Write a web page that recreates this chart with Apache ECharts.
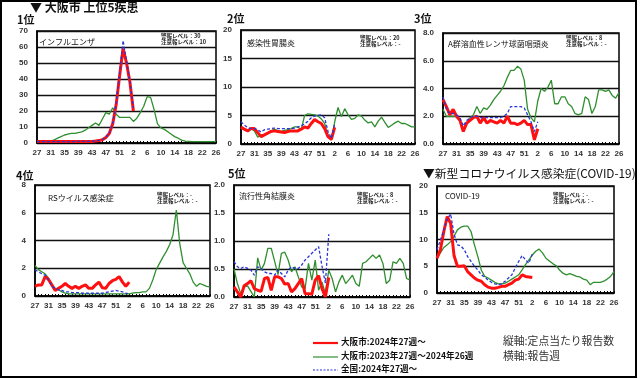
<!DOCTYPE html>
<html><head><meta charset="utf-8">
<script src="https://cdn.jsdelivr.net/npm/echarts/dist/echarts.min.js"></script>
<style>html,body{margin:0;padding:0;background:#fff}#c{width:640px;height:379px}</style>
</head><body><div id="c"></div>
<script>
// report weeks: 2024 wk27 .. wk53, 2025 wk1 .. wk26
const weeks = ['27','28','29','30','31','32','33','34','35','36','37','38','39','40','41','42','43','44','45','46','47','48','49','50','51','52','53',
  '1','2','3','4','5','6','7','8','9','10','11','12','13','14','15','16','17','18','19','20','21','22','23','24','25','26'];

// 1位 インフルエンザ
const fluRed   = [1,1,1,1,1,1,1,1,1,1,1,1,1,1,1,1,1,1.2,1.5,2,3.5,6,12,24,42,59,50,38,20];
const fluBlue  = [0.8,0.8,0.8,0.8,0.8,0.8,0.8,0.8,0.8,0.8,0.9,0.9,1,1,1,1,1.1,1.3,1.6,2.2,3.6,6,12,25,44,64,52,38,22];
const fluGreen = [1,1,1,1,1.2, 2,3,4,5,5.5, 6,6,6.5,7,8, 9.5,11,12.5,11,15, 19,18,22,18,16, 16,16,16,13.5,15.5,
  19,23,29,28.5,21, 12,9.5,8.5,7,5.5, 4,3,1.8,1.2,1, 0.8,0.8,0.8,0.8,0.8, 0.8,0.8,0.8];

// 2位 感染性胃腸炎
const gasRed   = [3.0,2.6,2.3,2.7,2.7,2.0,1.3,1.6,1.9,2.2,2.3,2.2,2.1,2.0,2.2,2.3,2.3,2.3,2.6,3.0,2.8,3.6,4.3,3.9,3.6,2.7,1.3,0.8,2.9];
const gasBlue  = [3.9,3.3,2.9,2.7,2.7,2.5,2.1,2.5,2.6,2.7,2.8,2.7,2.7,2.7,2.7,2.7,2.8,3.0,3.2,3.5,4.0,4.6,4.9,5.0,5.1,4.6,2.2,1.0,3.6];
const gasGreen = [2.7,2.5,2.2,2.7,2.3, 1.2,1.6,1.7,1.9,2.3, 2.6,2.3,2.2,2.4,2.5, 2.7,3.0,3.0,2.5,5.0, 5.3,5.2,5.1,4.9,4.4,
  3.6,1.4,0.7,3.9,6.4, 4.8,6.2,5.1,4.3,4.5, 5.1,4.9,4.2,3.7,3.9, 3.0,4.0,4.7,3.8,2.9, 3.3,3.7,4.0,3.6,3.6, 3.3,3.0,3.0];

// 3位 A群溶血性レンサ球菌咽頭炎
const strRed   = [3.2,2.7,2.1,2.5,2.0,1.7,0.9,1.5,1.7,1.9,2.0,1.5,1.9,1.5,1.7,1.6,1.5,1.7,1.5,2.0,1.5,1.5,1.4,1.5,1.7,1.4,1.4,0.3,1.1];
const strBlue  = [3.4,2.5,2.2,2.2,2.1,1.9,1.3,1.7,1.9,2.0,2.0,1.9,1.9,1.9,1.9,1.9,1.9,1.9,2.0,2.2,2.7,2.7,2.7,2.7,2.6,2.1,1.6,0.9,1.6];
const strGreen = [2.5,2.0,2.0,2.0,2.0, 1.7,1.0,1.5,1.9,2.1, 2.7,2.2,2.6,2.5,2.8, 3.2,3.5,3.8,4.2,4.8, 5.3,5.3,5.6,5.4,4.6,
  2.5,1.9,1.6,3.1,4.0, 3.8,4.1,4.6,2.9,2.9, 3.4,3.4,2.9,2.7,2.2, 2.1,2.2,3.4,3.2,2.2, 2.7,3.9,3.9,3.8,3.9, 3.5,3.3,3.7];

// 4位 RSウイルス感染症
const rsvRed   = [0.7,0.8,0.8,1.4,1.2,0.8,0.4,0.55,0.7,0.9,0.7,0.55,0.7,0.55,0.7,0.8,0.55,0.55,0.8,1.0,0.6,0.55,0.9,1.1,1.2,1.4,1.0,0.7,1.0];
const rsvBlue  = [1.9,1.75,1.6,1.5,1.15,0.7,0.55,0.45,0.4,0.3,0.3,0.25,0.25,0.25,0.2,0.2,0.2,0.2,0.2,0.2,0.2,0.25,0.3,0.35,0.4,0.35,0.3,0.2,0.15];
const rsvGreen = [2.2,1.9,1.75,1.6,1.3, 0.8,0.55,0.45,0.3,0.2, 0.15,0.15,0.15,0.15,0.15, 0.15,0.15,0.15,0.15,0.15, 0.15,0.15,0.15,0.15,0.15,
  0.15,0.15,0.15,0.15,0.2, 0.25,0.25,0.3,0.3,0.55, 1.15,1.9,2.35,2.8,3.2, 3.7,4.4,6.2,3.8,2.4, 2.0,1.6,1.0,0.7,0.9, 0.8,0.7,0.65];

// 5位 流行性角結膜炎
const ekcRed   = [0.18,0.09,0.0,0.2,0.24,0.29,0.15,0.12,0.1,0.33,0.35,0.12,0.36,0.36,0.33,0.23,0.24,0.09,0.15,0.24,0.33,0.06,0.06,0.05,0.3,0.38,0.15,0.0,0.35];
const ekcBlue  = [0.63,0.54,0.51,0.54,0.51,0.48,0.39,0.54,0.51,0.45,0.42,0.42,0.39,0.48,0.42,0.36,0.48,0.54,0.51,0.51,0.57,0.66,0.72,0.78,0.84,0.9,0.55,0.25,1.12];
const ekcGreen = [0.5,0.24,0.06,0.18,0.2, 0.1,0.0,0.7,0.48,0.6, 0.87,0.87,0.64,0.4,0.78, 0.8,0.66,0.45,0.54,0.36, 0.18,0.15,0.6,0.3,0.66,
  0.12,0.27,0.06,0.48,0.33, 0.09,0.27,0.39,0.24,0.31, 0.39,0.24,0.19,0.6,0.63, 0.69,0.75,0.69,0.75,0.6, 0.24,0.3,0.63,0.6,0.69, 0.6,0.33,0.3];

// 新型コロナウイルス感染症 (COVID-19)
const covRed   = [6.5,8.1,11.5,14.3,13.0,7.0,5.0,5.0,5.1,4.0,3.4,2.8,2.4,2.2,1.55,1.1,0.9,0.9,1.05,1.25,1.25,1.55,1.85,2.4,2.6,3.4,3.1,3.0,2.9];
const covBlue  = [8.1,9.9,11.8,13.7,14.8,11.0,9.0,8.8,8.1,6.8,5.9,5.0,4.3,3.4,3.0,2.4,2.0,1.7,1.55,1.7,2.2,2.8,3.4,4.7,5.9,7.0,6.2,5.6,7.3];
const covGreen = [6.5,7.5,8.5,9.0,9.6, 10.6,11.8,12.3,12.5,12.5, 11.5,9.0,6.8,4.3,3.1, 2.8,2.4,2.0,1.7,1.7, 1.85,2.2,2.6,3.0,3.4,
  4.3,5.3,6.2,7.1,7.8, 8.2,7.5,6.5,6.0,5.5, 5.1,4.3,3.7,3.4,3.6, 3.4,3.1,3.0,2.6,2.4, 1.55,2.0,2.0,2.0,2.2, 2.6,3.1,4.0];

const diseaseNames = ['インフルエンザ','感染性胃腸炎','A群溶血性レンサ球菌咽頭炎','RSウイルス感染症','流行性角結膜炎','COVID-19'];
const alertTexts = ['警報レベル：30\n注意報レベル：10','警報レベル：20\n注意報レベル：-','警報レベル：8\n注意報レベル：-',
  '警報レベル：-\n注意報レベル：-','警報レベル：8\n注意報レベル：-','警報レベル：-\n注意報レベル：-'];
const yMax = [70,20,8,8,2,20];
const yStep = [10,5,2,2,0.5,5];
const yDec = [0,0,1,0,1,0];
const legendNames = ['大阪市:2024年27週～','大阪市:2023年27週～2024年26週','全国:2024年27週～'];

const panels = [
  {g:[37,31,179,112], red:fluRed, blue:fluBlue, green:fluGreen, name:[39,43], alert:[161,33]},
  {g:[241,30,174,114], red:gasRed, blue:gasBlue, green:gasGreen, name:[247,43.5], alert:[360,35]},
  {g:[443,33,176,111], red:strRed, blue:strBlue, green:strGreen, name:[448,45], alert:[566,35]},
  {g:[35,185,175,111], red:rsvRed, blue:rsvBlue, green:rsvGreen, name:[48,199], alert:[157,192]},
  {g:[234,185,176,112], red:ekcRed, blue:ekcBlue, green:ekcGreen, name:[239,197], alert:[357,192]},
  {g:[437,186,177,107], red:covRed, blue:covBlue, green:covGreen, name:[445,197], alert:[553,192]}
];

const JP = '"Noto Sans CJK JP", sans-serif';
const NUM = '"Liberation Sans", Arial, sans-serif';
const RED = '#ff1010', GREEN = '#2f8f2f', BLUE = '#2a35d8';

const grids = [], xAxes = [], yAxes = [], series = [], graphics = [];
panels.forEach((p, i) => {
  grids.push({left:p.g[0], top:p.g[1], width:p.g[2], height:p.g[3], show:true, borderColor:'#000', borderWidth:1.5, backgroundColor:'transparent', containLabel:false, outerBoundsMode:'none'});
  xAxes.push({type:'category', gridIndex:i, data:weeks, boundaryGap:false,
    axisLine:{show:true, lineStyle:{color:'#000', width:1.5}},
    axisTick:{show:true, interval:0, inside:true, length:2, lineStyle:{color:'#000', width:1}},
    axisLabel:{interval:3, fontSize:8, fontWeight:'bold', color:'#333', margin:6, fontFamily:NUM, hideOverlap:false},
    splitLine:{show:false}});
  yAxes.push({type:'value', gridIndex:i, min:0, max:yMax[i], interval:yStep[i],
    axisLine:{show:true, lineStyle:{color:'#000', width:1.5}},
    axisTick:{show:false},
    axisLabel:{fontSize:8, fontWeight:'bold', color:'#333', margin:9, fontFamily:NUM,
      formatter: v => v.toFixed(yDec[i])},
    splitLine:{show:true, lineStyle:{color:'#111', width:1.3}}});
  series.push({type:'line', xAxisIndex:i, yAxisIndex:i, data:p.green, symbol:'none', lineStyle:{color:GREEN, width:1.3}, z:2});
  series.push({type:'line', xAxisIndex:i, yAxisIndex:i, data:p.red, symbol:'none', lineStyle:{color:RED, width:3}, z:3});
  series.push({type:'line', xAxisIndex:i, yAxisIndex:i, data:p.blue, symbol:'none', lineStyle:{color:BLUE, width:1.3, type:[3,2]}, z:4});
  graphics.push({type:'text', left:p.name[0], top:p.name[1]-5, z:10,
    style:{text:diseaseNames[i], font:'8px ' + JP, fill:'#111'}});
  graphics.push({type:'text', left:p.alert[0], top:p.alert[1], z:10,
    style:{text:alertTexts[i], font:'bold 5.5px ' + JP, fill:'#222', lineHeight:6}});
});

// headings
const heads = [
  ['▼ 大阪市 上位5疾患', 30, 1, 'bold 12px'],
  ['1位', 17, 14, 'bold 11px'],
  ['2位', 227, 13, 'bold 11px'],
  ['3位', 414, 13, 'bold 11px'],
  ['4位', 16, 170, 'bold 11px'],
  ['5位', 228, 168, 'bold 11px'],
  ['▼新型コロナウイルス感染症(COVID-19)', 423, 168, '11.8px']
];
heads.forEach(h => graphics.push({type:'text', left:h[1], top:h[2], z:10, style:{text:h[0], font:h[3] + ' ' + JP, fill:'#111'}}));

// legend
const legColors = [RED, GREEN, BLUE];
const legY = [343, 357, 370];
const legW = [2.2, 1.2, 1.2];
legendNames.forEach((t, k) => {
  graphics.push({type:'line', z:10, shape:{x1:313, y1:legY[k], x2:338, y2:legY[k]},
    style:{stroke:legColors[k], lineWidth:legW[k], lineDash: k === 2 ? [2,1.5] : null}});
  graphics.push({type:'text', z:10, left:341, top:legY[k]-5.5, style:{text:t, font:'bold 8.6px ' + JP, fill:'#111'}});
});
graphics.push({type:'text', z:10, left:503, top:336, style:{text:'縦軸:定点当たり報告数', font:'10.8px ' + JP, fill:'#333'}});
graphics.push({type:'text', z:10, left:503, top:351, style:{text:'横軸:報告週', font:'10.8px ' + JP, fill:'#333'}});

// outer frame
graphics.push({type:'rect', z:20, shape:{x:1, y:1, width:635, height:376}, style:{fill:null, stroke:'#000', lineWidth:2}});

const chart = echarts.init(document.getElementById('c'), null, {renderer:'canvas'});
chart.setOption({
  animation:false,
  backgroundColor:'#fff',
  grid:grids, xAxis:xAxes, yAxis:yAxes, series:series,
  graphic:{elements:graphics}
});
</script>
</body></html>
